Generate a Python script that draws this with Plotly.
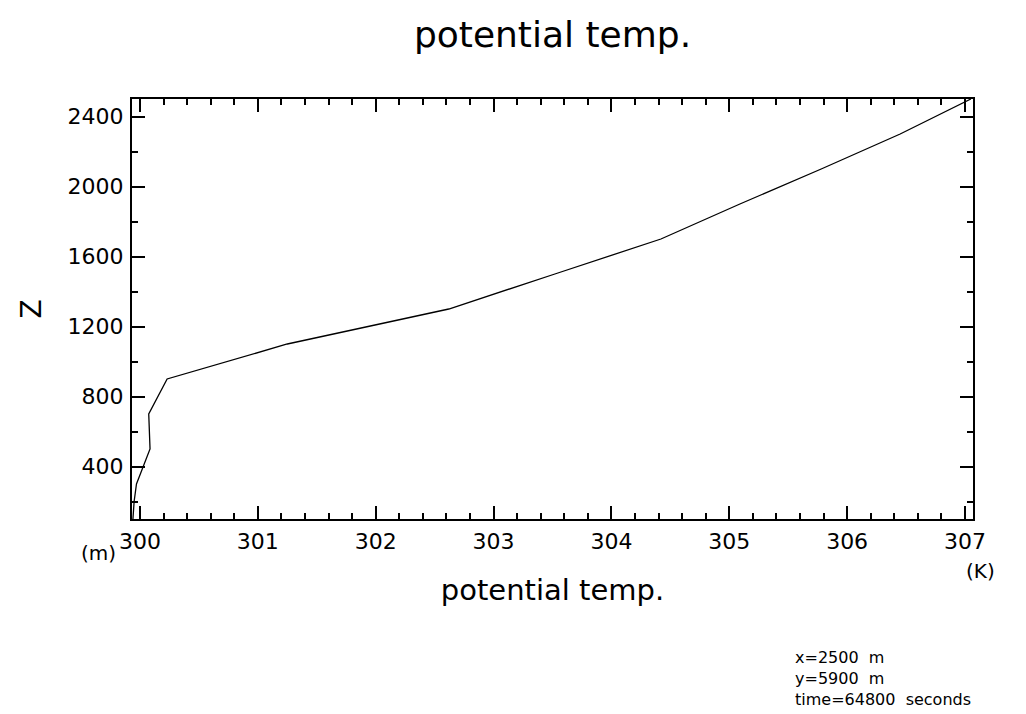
import plotly.graph_objects as go

# Data: potential temperature (K) vs height Z (m)
theta = [299.94, 299.95, 299.97, 300.025, 300.085, 300.074, 300.23, 301.25, 302.62, 303.52, 304.42, 305.09, 305.78, 306.45, 307.05]
z = [100, 200, 300, 400, 500, 700, 900, 1100, 1300, 1500, 1700, 1900, 2100, 2300, 2500]

x_ticks = [300, 301, 302, 303, 304, 305, 306, 307]
y_ticks = [400, 800, 1200, 1600, 2000, 2400]
info_lines = ["x=2500  m", "y=5900  m", "time=64800  seconds"]

FONT = "DejaVu Sans"

fig = go.Figure()
fig.add_trace(go.Scatter(x=theta, y=z, mode="lines",
                         line=dict(color="black", width=1.3),
                         showlegend=False, hoverinfo="skip", cliponaxis=True))

axis_common = dict(
    showgrid=False, zeroline=False, showline=True, linecolor="black", linewidth=2,
    mirror="allticks", ticks="inside", ticklen=13, tickwidth=2, tickcolor="black",
    tickfont=dict(family=FONT, size=22, color="black"),
)

fig.update_xaxes(range=[299.932, 307.068], tickvals=x_ticks,
                 ticktext=[str(v) for v in x_ticks],
                 minor=dict(dtick=0.2, tick0=300, ticks="inside", ticklen=6, tickwidth=1.5, tickcolor="black"),
                 title=dict(text="potential temp.", font=dict(family=FONT, size=29, color="black"), standoff=26),
                 ticklabelstandoff=2,
                 **axis_common)
fig.update_yaxes(range=[100, 2500], tickvals=y_ticks,
                 ticktext=[str(v) for v in y_ticks],
                 minor=dict(dtick=200, tick0=0, ticks="inside", ticklen=6, tickwidth=1.5, tickcolor="black"),
                 title=dict(text="Z", font=dict(family=FONT, size=28, color="black"), standoff=18),
                 ticklabelstandoff=2,
                 **axis_common)

fig.add_annotation(text="(m)", x=0, y=0, xref="paper", yref="paper", xanchor="right", yanchor="middle",
                   xshift=-14, yshift=-34, showarrow=False, font=dict(family=FONT, size=20, color="black"))
fig.add_annotation(text="(K)", x=1, y=0, xref="paper", yref="paper", xanchor="right", yanchor="middle",
                   xshift=24, yshift=-52, showarrow=False, font=dict(family=FONT, size=20, color="black"))

pw, ph = 1026 - 132 - 53, 714 - 99 - 195
fig.add_annotation(text="<br>".join(info_lines), x=(793 - 132) / pw, y=(714 - 195 - 646) / ph,
                   xref="paper", yref="paper", showarrow=False, align="left",
                   xanchor="left", yanchor="top", font=dict(family=FONT, size=16, color="black"))

fig.update_layout(
    width=1026, height=714,
    margin=dict(l=132, r=53, t=99, b=195),
    paper_bgcolor="white", plot_bgcolor="white",
    title=dict(text="potential temp.", x=0.5385, xanchor="center", y=0.952, yanchor="middle",
               font=dict(family=FONT, size=36, color="black")),
)

fig.write_html("out.html")
